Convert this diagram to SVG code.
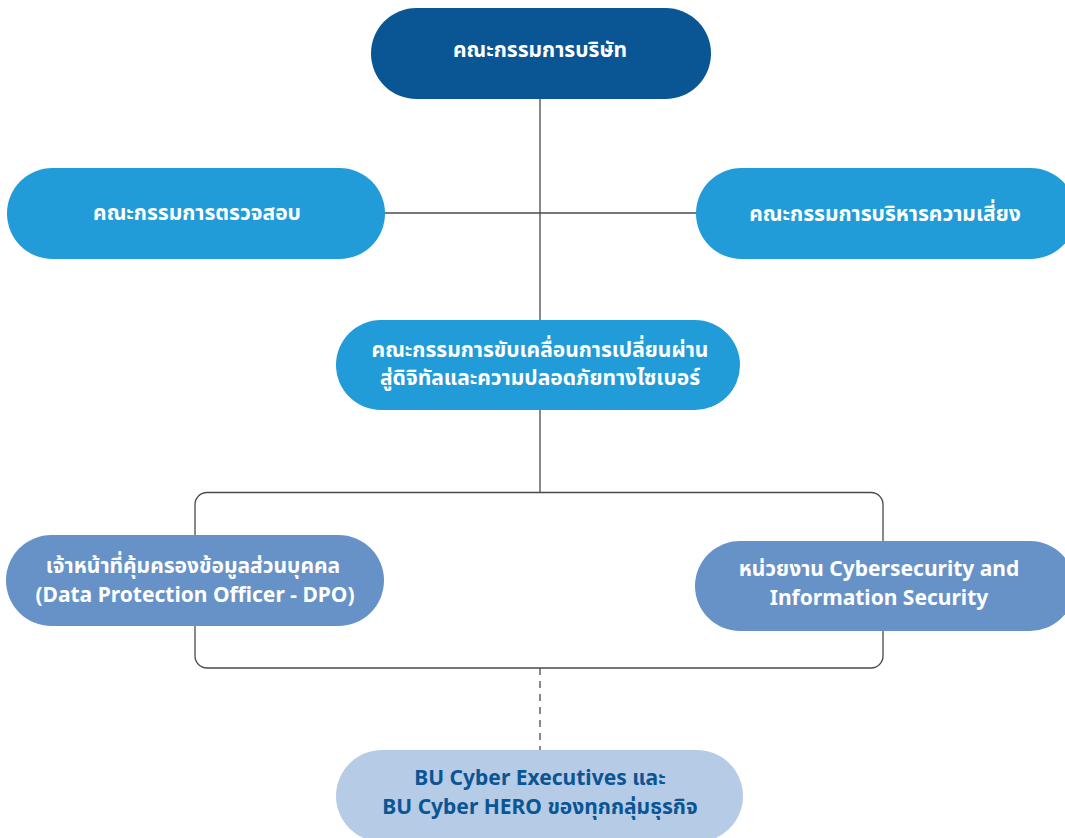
<svg xmlns="http://www.w3.org/2000/svg" width="1065" height="838" viewBox="0 0 1065 838">
<style>
.t{font-family:"Noto Sans","Noto Sans Thai","DejaVu Sans",sans-serif;font-weight:700;font-size:21px;text-anchor:middle;fill:#ffffff}
.dk{fill:#0a5593}
.ln{stroke:#4a4a4a;stroke-width:1.3;fill:none}
</style>
<rect width="1065" height="838" fill="#ffffff"/>
<g id="connectors">
<line class="ln" x1="540" y1="99" x2="540" y2="320"/>
<line class="ln" x1="385" y1="213" x2="696" y2="213"/>
<line class="ln" x1="540" y1="410" x2="540" y2="492"/>
<rect class="ln" x="195" y="492.5" width="688" height="175.5" rx="12"/>
<line class="ln" x1="540" y1="668" x2="540" y2="750" stroke-dasharray="7,6"/>
</g>
<g id="board">
<rect x="371" y="8" width="340" height="91" rx="45.5" fill="#0a5593"/>
<text class="t" x="540" y="57">คณะกรรมการบริษัท</text>
</g>
<g id="audit">
<rect x="7" y="168" width="378" height="91" rx="45.5" fill="#219cd8"/>
<text class="t" x="197" y="220">คณะกรรมการตรวจสอบ</text>
</g>
<g id="risk">
<rect x="696" y="168" width="380" height="91" rx="45.5" fill="#219cd8"/>
<text class="t" x="885" y="221">คณะกรรมการบริหารความเสี่ยง</text>
</g>
<g id="digital">
<rect x="336" y="320" width="404" height="90" rx="45" fill="#219cd8"/>
<text class="t" x="540" y="357">คณะกรรมการขับเคลื่อนการเปลี่ยนผ่าน</text>
<text class="t" x="540" y="385">สู่ดิจิทัลและความปลอดภัยทางไซเบอร์</text>
</g>
<g id="dpo">
<rect x="6" y="535" width="378" height="91" rx="45.5" fill="#6792c7"/>
<text class="t" x="193" y="573">เจ้าหน้าที่คุ้มครองข้อมูลส่วนบุคคล</text>
<text class="t" x="195" y="602">(Data Protection Officer - DPO)</text>
</g>
<g id="cyber">
<rect x="695" y="541" width="380" height="90" rx="45" fill="#6792c7"/>
<text class="t" x="879" y="576">หน่วยงาน Cybersecurity and</text>
<text class="t" x="879" y="605">Information Security</text>
</g>
<g id="bu">
<rect x="336" y="750" width="407" height="92" rx="46" fill="#b6cbe5"/>
<text class="t dk" x="540" y="785">BU Cyber Executives และ</text>
<text class="t dk" x="540" y="814">BU Cyber HERO ของทุกกลุ่มธุรกิจ</text>
</g>
</svg>
